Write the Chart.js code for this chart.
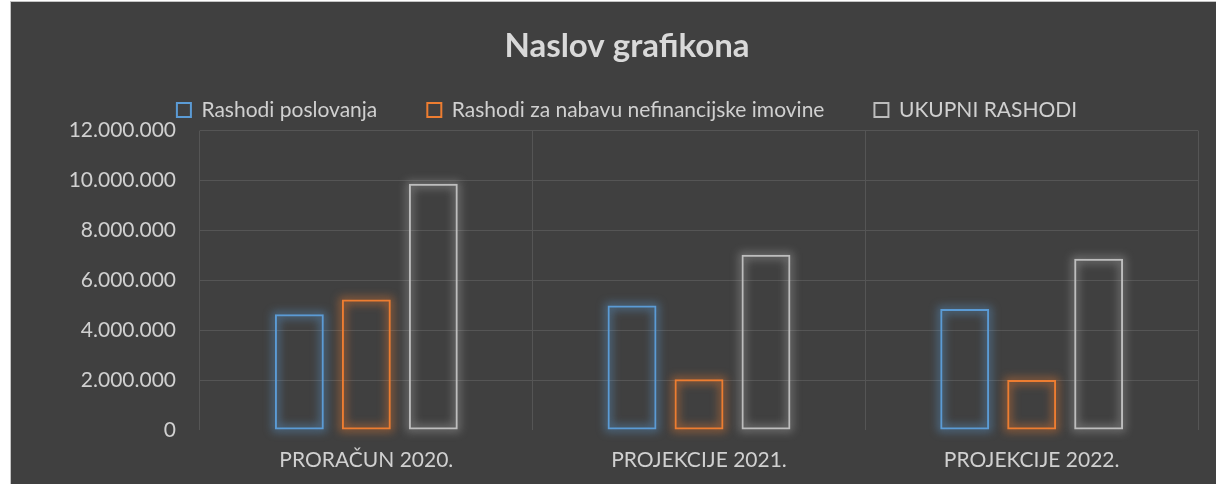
<!DOCTYPE html>
<html>
<head>
<meta charset="utf-8">
<script src="https://cdn.jsdelivr.net/npm/chart.js@4"></script>
<style>
  html, body { margin: 0; padding: 0; background: #ffffff; }
  #okvir {
    position: absolute; left: 10px; top: 1px;
    width: 1206px; height: 483px;
    box-sizing: border-box;
    border-top: 1px solid #c4c4c4; border-left: 1px solid #c4c4c4;
    background: #404040;
  }
  #grafikon { display: block; }
</style>
</head>
<body>
<div id="okvir"><canvas id="grafikon" width="1205" height="482"></canvas></div>
<script>
// --- podaci ---
const kategorije = ['PRORAČUN 2020.', 'PROJEKCIJE 2021.', 'PROJEKCIJE 2022.'];
const rashodiPoslovanja = [4640000, 4990000, 4850000];
const rashodiNefinancijske = [5230000, 2030000, 2000000];
const ukupniRashodi = [9870000, 7020000, 6860000];
const yOznake = ['0', '2.000.000', '4.000.000', '6.000.000', '8.000.000', '10.000.000', '12.000.000'];

const sjaj = ['rgba(91,155,213,0.45)', 'rgba(237,125,49,0.45)', 'rgba(200,200,200,0.35)'];

// sjaj oko stupaca (glow) - crta se ispod okvira stupca, iz pozicija elemenata
const glowPlugin = {
    id: 'glow',
    beforeDatasetDraw(chart, args) {
        const ctx = chart.ctx;
        ctx.save();
        ctx.filter = 'blur(4px)';
        ctx.strokeStyle = sjaj[args.index];
        ctx.lineWidth = 7;
        args.meta.data.forEach(el => {
            const p = el.getProps(['x', 'y', 'base', 'width'], true);
            ctx.strokeRect(p.x - p.width / 2 + 1, p.y + 1, p.width - 2, p.base - p.y - 2);
        });
        ctx.restore();
    }
};

const font = 'Lato';

new Chart(document.getElementById('grafikon').getContext('2d'), {
    type: 'bar',
    data: {
        labels: kategorije,
        datasets: [
            { label: 'Rashodi poslovanja', data: rashodiPoslovanja, borderColor: '#5B9BD5', backgroundColor: 'rgba(0,0,0,0)' },
            { label: 'Rashodi za nabavu nefinancijske imovine', data: rashodiNefinancijske, borderColor: '#ED7D31', backgroundColor: 'rgba(0,0,0,0)' },
            { label: 'UKUPNI RASHODI', data: ukupniRashodi, borderColor: '#BDBDBD', backgroundColor: 'rgba(0,0,0,0)' }
        ]
    },
    options: {
        responsive: false,
        animation: false,
        layout: { padding: { left: 45, right: 18, top: 0, bottom: 0 } },
        datasets: {
            bar: { borderWidth: 2, borderSkipped: false, categoryPercentage: 0.604, barPercentage: 0.73 }
        },
        plugins: {
            title: {
                display: true,
                text: 'Naslov grafikona',
                color: '#D9D9D9',
                font: { family: font, size: 33, weight: 'bold' },
                padding: { top: 25, bottom: -17 }
            },
            legend: {
                position: 'top',
                labels: {
                    color: '#D0D0D0',
                    font: { family: font, size: 21 },
                    boxWidth: 14, boxHeight: 14,
                    padding: 50
                }
            },
            tooltip: { enabled: false }
        },
        scales: {
            x: {
                grid: { color: '#555555', drawTicks: false },
                border: { display: false },
                ticks: { color: '#D0D0D0', font: { family: font, size: 21 }, padding: 18 },
                afterFit(s) { s.height = 54; }
            },
            y: {
                min: 0, max: 12000000,
                grid: { color: function(c) { return c.tick.value === 0 ? 'rgba(0,0,0,0)' : '#555555'; }, drawTicks: false },
                border: { display: false },
                ticks: {
                    stepSize: 2000000,
                    color: '#D0D0D0',
                    font: { family: font, size: 21 },
                    padding: 24,
                    callback: function(v, i) { return yOznake[i]; }
                },
                afterFit(s) { s.width = 144; }
            }
        }
    },
    plugins: [glowPlugin]
});
</script>
</body>
</html>
